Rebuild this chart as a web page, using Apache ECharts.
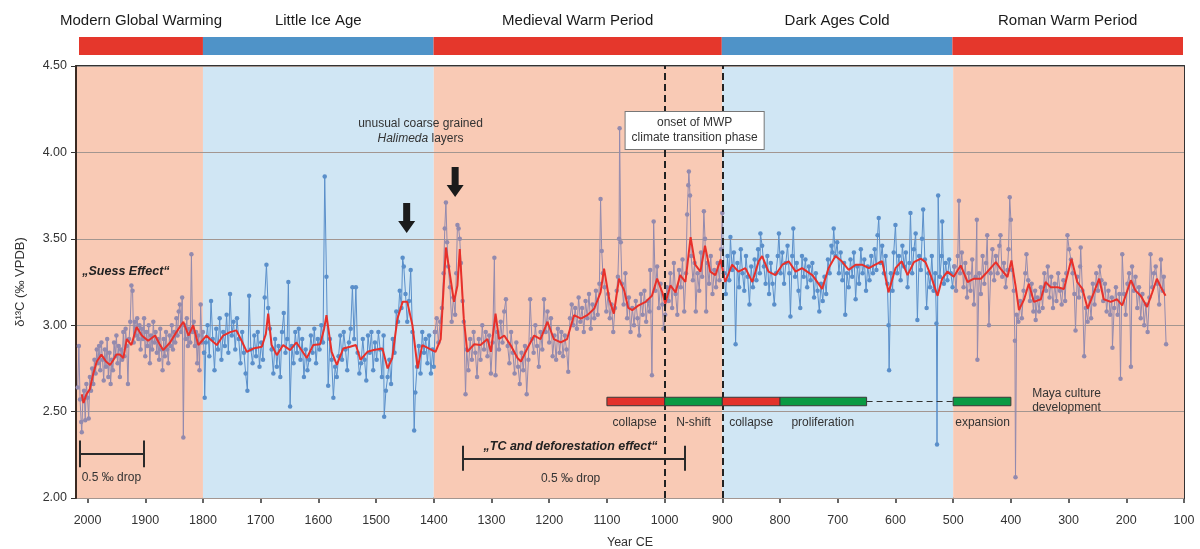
<!DOCTYPE html>
<html><head><meta charset="utf-8">
<script src="https://cdn.jsdelivr.net/npm/echarts@6/dist/echarts.min.js"></script>
<style>html,body{margin:0;padding:0;background:#fff}#c{width:1200px;height:549px}</style>
</head><body><div id="c"></div>
<script>
// ---------------- DATA ----------------
const periodNames = ['Modern Global Warming','Little Ice Age','Medieval Warm Period','Dark Ages Cold','Roman Warm Period'];
const periodStart = [2020,1800,1400,900,500];
const periodEnd   = [1800,1400,900,500,100];
const periodWarm  = [true,false,true,false,true];
const xTickYears = [2000,1900,1800,1700,1600,1500,1400,1300,1200,1100,1000,900,800,700,600,500,400,300,200,100];
const yTickValues = [2.0,2.5,3.0,3.5,4.0,4.5];

const rawModern = [[2017,2.64],[2015,2.88],[2013,2.57],[2011,2.44],[2010,2.38],[2008,2.58],[2006,2.62],[2004,2.45],[2002,2.66],[2000,2.58],[1998,2.46],[1996,2.70],[1994,2.62],[1992,2.75],[1990,2.66],[1988,2.80],[1986,2.72],[1984,2.86],[1982,2.78],[1980,2.88],[1978,2.74],[1976,2.90],[1974,2.80],[1972,2.68],[1970,2.86],[1968,2.76],[1966,2.92],[1964,2.70],[1962,2.84],[1960,2.66],[1958,2.80],[1956,2.74],[1954,2.90],[1952,2.82],[1950,2.94],[1948,2.78],[1946,2.88],[1944,2.70],[1942,2.86],[1940,2.80],[1938,2.96],[1936,2.82],[1934,2.98],[1932,2.88],[1930,2.66],[1928,2.92],[1926,3.02],[1924,3.23],[1922,3.20],[1920,2.90],[1918,3.02],[1916,2.94],[1914,3.04],[1912,2.92],[1910,3.00],[1908,2.86],[1906,2.98],[1904,2.92],[1902,3.04],[1900,2.82],[1898,2.96],[1896,2.88],[1894,3.00],[1892,2.78],[1890,2.94],[1888,2.86],[1886,3.02],[1884,2.90],[1882,2.96],[1880,2.84],[1878,2.92],[1876,2.80],[1874,2.98],[1872,2.86],[1870,2.74],[1868,2.92],[1866,2.82],[1864,2.96],[1862,2.86],[1860,2.78],[1858,2.94],[1856,2.88],[1854,3.00],[1852,2.86],[1850,2.96],[1848,2.90],[1846,3.04],[1844,2.94],[1842,3.08],[1840,3.12],[1838,2.96],[1836,3.16],[1834,2.35],[1832,3.00],[1830,2.92],[1828,3.04],[1826,2.88],[1824,2.98],[1822,2.90],[1820,3.41],[1818,2.96],[1816,3.02],[1814,2.88],[1812,2.96],[1810,2.78],[1808,2.94],[1806,2.74],[1804,3.12],[1802,2.90],[1800,2.96]];

const rawLIA = [[1798,2.84],[1797,2.58],[1795,2.90],[1792,3.00],[1789,2.82],[1786,3.14],[1783,2.92],[1780,2.74],[1777,2.98],[1774,2.86],[1771,3.04],[1768,2.80],[1765,2.96],[1762,2.88],[1759,3.06],[1756,2.84],[1753,3.18],[1750,2.94],[1747,3.02],[1744,2.86],[1741,3.04],[1738,2.92],[1735,2.78],[1732,2.96],[1729,2.84],[1726,2.72],[1723,2.62],[1720,3.17],[1717,2.86],[1714,2.78],[1711,2.94],[1708,2.82],[1705,2.96],[1702,2.76],[1699,2.90],[1696,2.80],[1693,3.16],[1690,3.35],[1687,3.10],[1684,2.98],[1681,2.86],[1678,2.72],[1675,2.92],[1672,2.76],[1669,2.88],[1666,2.70],[1663,2.96],[1660,3.07],[1657,2.84],[1654,2.92],[1652,3.25],[1649,2.53],[1646,2.88],[1643,2.78],[1640,2.96],[1637,2.84],[1634,2.98],[1631,2.80],[1628,2.92],[1625,2.70],[1622,2.86],[1619,2.74],[1616,2.80],[1613,2.94],[1610,2.84],[1607,2.98],[1604,2.78],[1601,2.92],[1598,2.86],[1595,3.00],[1592,2.90],[1589,3.86],[1586,3.28],[1583,2.65],[1580,2.92],[1577,2.80],[1574,2.58],[1571,2.76],[1568,2.70],[1565,2.82],[1562,2.94],[1559,2.80],[1556,2.96],[1553,2.86],[1550,2.74],[1547,2.90],[1544,2.98],[1541,3.22],[1538,2.92],[1535,3.22],[1532,2.84],[1529,2.72],[1526,2.78],[1523,2.92],[1520,2.80],[1517,2.68],[1514,2.94],[1511,2.84],[1508,2.96],[1505,2.74],[1502,2.90],[1499,2.80],[1496,2.96],[1493,2.86],[1490,2.70],[1487,2.94],[1486,2.47],[1483,2.62],[1480,2.70],[1477,2.80],[1474,2.66],[1471,2.92],[1468,2.84],[1465,3.08],[1462,3.02],[1459,3.20],[1456,3.10],[1454,3.39],[1452,3.34],[1449,3.18],[1446,3.02],[1443,3.14],[1440,3.32],[1437,2.96],[1434,2.39],[1432,2.61],[1429,2.76],[1426,2.88],[1423,2.72],[1420,2.96],[1417,2.84],[1414,2.92],[1411,2.78],[1408,2.94],[1405,2.72],[1402,2.86],[1400,2.76]];

const rawMWP = [[1398,2.96],[1395,3.04],[1392,2.90],[1389,3.02],[1386,3.10],[1383,3.30],[1381,3.56],[1379,3.71],[1377,3.48],[1375,3.34],[1372,3.22],[1369,3.02],[1366,3.16],[1363,3.06],[1361,3.30],[1359,3.58],[1357,3.56],[1355,3.50],[1353,3.36],[1350,3.14],[1348,3.02],[1345,2.60],[1343,2.86],[1340,2.74],[1337,2.92],[1334,2.80],[1331,2.96],[1328,2.84],[1325,2.70],[1322,2.92],[1319,2.80],[1316,3.00],[1313,2.86],[1310,2.96],[1307,2.82],[1304,2.94],[1301,2.72],[1298,2.90],[1295,3.39],[1293,2.71],[1290,2.96],[1287,2.86],[1284,3.02],[1281,2.90],[1278,3.08],[1275,3.15],[1272,2.88],[1269,2.78],[1266,2.96],[1263,2.84],[1260,2.72],[1257,2.90],[1254,2.76],[1251,2.66],[1248,2.84],[1245,2.74],[1242,2.88],[1239,2.60],[1236,2.80],[1233,3.15],[1230,2.92],[1227,2.84],[1224,3.00],[1221,2.88],[1218,2.76],[1215,2.96],[1212,2.86],[1209,3.15],[1206,2.96],[1203,3.08],[1200,2.90],[1197,3.04],[1194,2.82],[1191,2.94],[1188,2.80],[1185,2.98],[1182,2.84],[1179,2.96],[1176,2.82],[1173,2.94],[1170,2.86],[1167,2.73],[1164,3.04],[1161,3.12],[1158,3.00],[1155,3.10],[1152,2.98],[1149,3.16],[1146,3.02],[1143,3.10],[1140,2.96],[1137,3.14],[1134,3.04],[1131,3.18],[1128,2.98],[1125,3.12],[1122,3.04],[1119,3.20],[1116,3.06],[1113,3.24],[1111,3.73],[1109,3.43],[1107,3.30],[1104,3.22],[1101,3.08],[1098,3.18],[1095,3.04],[1092,3.12],[1089,2.96],[1086,3.10],[1083,3.20],[1081,3.28],[1079,3.50],[1078,4.14],[1076,3.48],[1074,3.24],[1071,3.12],[1068,3.30],[1065,3.04],[1062,3.16],[1059,2.96],[1056,3.10],[1053,3.00],[1050,3.14],[1047,3.04],[1044,2.94],[1041,3.18],[1038,3.06],[1035,3.20],[1032,3.02],[1029,3.14],[1026,3.08],[1025,3.32],[1022,2.71],[1019,3.60],[1016,3.20],[1013,3.34],[1010,3.10],[1007,3.24],[1004,3.12],[1002,2.98],[999,3.06],[996,3.22],[993,3.14],[990,3.30],[987,3.10],[984,3.36],[981,3.18],[978,3.06],[975,3.32],[972,3.22],[969,3.38],[966,3.08],[963,3.30],[961,3.64],[959,3.81],[958,3.89],[956,3.75],[954,3.40],[951,3.26],[948,3.36],[946,3.08],[943,3.30],[940,3.20],[937,3.42],[935,3.28],[932,3.66],[930,3.50],[928,3.08],[926,3.36],[923,3.24],[920,3.40],[917,3.18],[914,3.32],[911,3.22],[908,3.36],[905,3.26],[902,3.44],[900,3.65]];

const rawDAC = [[897,3.30],[894,3.18],[891,3.40],[888,3.26],[886,3.51],[883,3.32],[880,3.42],[877,2.89],[874,3.36],[871,3.22],[868,3.44],[865,3.30],[862,3.20],[859,3.40],[856,3.28],[853,3.12],[850,3.34],[847,3.22],[844,3.38],[841,3.26],[838,3.44],[835,3.30],[834,3.53],[831,3.46],[828,3.34],[825,3.24],[822,3.40],[819,3.18],[816,3.36],[813,3.24],[810,3.12],[807,3.30],[804,3.40],[802,3.53],[799,3.30],[796,3.42],[793,3.24],[790,3.36],[787,3.46],[784,3.30],[782,3.05],[779,3.40],[777,3.56],[774,3.28],[771,3.36],[768,3.20],[765,3.10],[762,3.40],[759,3.28],[756,3.38],[753,3.22],[750,3.34],[747,3.26],[744,3.36],[741,3.16],[738,3.30],[735,3.20],[732,3.08],[729,3.24],[726,3.14],[723,3.28],[720,3.18],[717,3.38],[714,3.30],[711,3.46],[709,3.42],[707,3.56],[704,3.40],[701,3.48],[698,3.30],[695,3.42],[692,3.26],[689,3.36],[687,3.06],[684,3.30],[681,3.22],[678,3.38],[675,3.28],[672,3.42],[669,3.15],[666,3.34],[663,3.24],[660,3.44],[657,3.30],[654,3.38],[651,3.20],[648,3.34],[645,3.26],[642,3.40],[639,3.30],[636,3.44],[633,3.32],[631,3.52],[629,3.62],[626,3.36],[623,3.46],[620,3.30],[617,3.40],[614,3.24],[612,3.00],[611,2.74],[608,3.30],[605,3.20],[603,3.42],[600,3.58],[597,3.30],[594,3.40],[591,3.26],[588,3.46],[585,3.34],[582,3.42],[579,3.22],[576,3.36],[574,3.65],[571,3.30],[568,3.44],[565,3.53],[562,3.03],[559,3.40],[556,3.32],[554,3.50],[552,3.67],[549,3.38],[546,3.10],[543,3.30],[540,3.22],[537,3.40],[534,3.20],[531,3.30],[529,3.01],[528,2.31],[526,3.75],[523,3.28],[520,3.40],[519,3.60],[516,3.24],[513,3.36],[510,3.26],[507,3.38],[504,3.30],[501,3.22]];

const rawRWP = [[498,3.34],[495,3.20],[492,3.40],[490,3.72],[488,3.30],[485,3.42],[482,3.22],[479,3.36],[476,3.16],[473,3.30],[470,3.20],[467,3.38],[464,3.12],[461,3.28],[459,3.61],[458,2.80],[455,3.30],[452,3.18],[449,3.40],[446,3.24],[443,3.36],[441,3.52],[438,3.00],[435,3.30],[432,3.44],[429,3.26],[426,3.40],[423,3.30],[420,3.46],[418,3.52],[415,3.28],[412,3.36],[409,3.22],[406,3.32],[404,3.44],[402,3.74],[400,3.61],[398,3.32],[395,3.20],[393,2.91],[392,2.12],[390,3.06],[387,3.02],[384,3.14],[381,3.04],[378,3.20],[375,3.30],[373,3.41],[370,3.26],[367,3.14],[364,3.24],[361,3.08],[358,3.20],[357,3.03],[354,3.16],[351,3.08],[348,3.22],[345,3.10],[342,3.30],[339,3.20],[336,3.34],[333,3.16],[330,3.28],[327,3.10],[324,3.24],[321,3.14],[318,3.30],[315,3.20],[312,3.12],[309,3.26],[306,3.14],[304,3.30],[302,3.52],[299,3.44],[296,3.38],[293,3.30],[290,3.18],[288,2.97],[285,3.28],[282,3.16],[280,3.34],[279,3.45],[276,3.20],[273,2.82],[270,3.10],[267,3.02],[264,3.16],[261,3.04],[258,3.24],[255,3.12],[252,3.30],[249,3.20],[246,3.34],[243,3.26],[240,3.14],[237,3.24],[234,3.08],[231,3.20],[228,3.06],[225,3.16],[224,2.87],[221,3.10],[218,3.22],[215,3.06],[212,3.18],[210,2.69],[207,3.41],[204,3.18],[201,3.06],[198,3.24],[195,3.30],[192,2.76],[190,3.34],[187,3.20],[184,3.28],[181,3.10],[178,3.22],[175,3.04],[172,3.18],[169,3.00],[166,3.12],[163,2.96],[160,3.16],[158,3.41],[155,3.22],[152,3.30],[149,3.34],[146,3.24],[143,3.12],[140,3.38],[137,3.20],[135,3.28],[131,2.89]];

const smoothLine = [[2010,2.60],[2007,2.55],[2002,2.60],[1996,2.63],[1990,2.72],[1984,2.79],[1976,2.83],[1968,2.79],[1961,2.77],[1955,2.80],[1950,2.83],[1944,2.83],[1938,2.81],[1932,2.92],[1924,2.885],[1915,2.99],[1906,2.94],[1895,2.91],[1883,2.94],[1875,2.89],[1869,2.856],[1857,2.90],[1846,2.96],[1834,3.02],[1825,2.94],[1817,3.00],[1808,2.885],[1799,2.92],[1794,2.94],
[1788,2.92],[1776,2.885],[1765,2.94],[1753,2.96],[1742,2.97],[1733,2.91],[1724,2.846],[1713,2.865],[1698,2.875],[1691,2.95],[1687,3.067],[1681,2.885],[1672,2.827],[1661,2.885],[1649,2.856],[1638,2.90],[1620,2.81],[1609,2.885],[1597,2.89],[1590,2.98],[1586,3.058],[1577,2.846],[1568,2.77],[1557,2.865],[1545,2.875],[1535,2.885],[1527,2.80],[1515,2.846],[1504,2.856],[1489,2.865],[1480,2.75],[1472,2.81],[1463,3.038],[1454,3.135],[1446,3.135],[1437,3.00],[1428,2.75],[1420,2.885],[1408,2.865],[1397,2.846],
[1388,2.92],[1379,3.45],[1371,3.27],[1365,3.135],[1359,3.23],[1355,3.44],[1348,3.038],[1342,2.846],[1330,2.89],[1319,2.885],[1307,2.92],[1301,2.846],[1293,3.067],[1287,2.92],[1278,2.94],[1267,2.885],[1255,2.81],[1249,2.79],[1238,2.865],[1226,2.94],[1215,2.92],[1203,3.02],[1192,2.92],[1180,2.90],[1169,2.92],[1157,3.058],[1145,3.038],[1134,3.058],[1122,3.096],[1111,3.19],[1105,3.327],[1096,3.15],[1088,3.067],[1079,3.269],[1070,3.20],[1063,3.10],[1056,3.087],[1045,3.115],[1033,3.135],[1022,3.17],[1013,3.27],[1004,3.19],[999,3.125],[990,3.23],[981,3.19],[973,3.29],[964,3.25],[955,3.51],[947,3.35],[938,3.31],[930,3.46],[921,3.31],[912,3.29],[903,3.38],
[895,3.25],[883,3.35],[872,3.31],[860,3.33],[848,3.25],[837,3.37],[831,3.40],[820,3.31],[808,3.29],[796,3.35],[785,3.37],[773,3.31],[762,3.33],[744,3.29],[727,3.21],[716,3.33],[704,3.40],[693,3.37],[681,3.32],[669,3.35],[658,3.35],[646,3.33],[635,3.35],[623,3.37],[612,3.19],[600,3.33],[589,3.37],[579,3.29],[568,3.365],[556,3.385],[548,3.365],[539,3.29],[527,3.17],[519,3.27],[510,3.31],[499,3.28],
[487,3.346],[475,3.25],[464,3.269],[452,3.269],[441,3.308],[426,3.365],[418,3.327],[406,3.279],[399,3.375],[392,3.23],[386,3.087],[377,3.15],[369,3.24],[360,3.135],[348,3.15],[340,3.25],[331,3.22],[319,3.22],[308,3.21],[295,3.385],[285,3.25],[276,3.21],[267,3.096],[256,3.19],[247,3.269],[239,3.15],[227,3.135],[216,3.15],[207,3.115],[192,3.26],[184,3.20],[175,3.17],[164,3.106],[155,3.19],[147,3.269],[140,3.22],[132,3.17]];

// Maya culture phases
const mayaStart = [1100,1000,900,800,500];
const mayaEnd   = [1000,900,800,650,400];
const mayaKind  = ['decline','growth','decline','growth','growth'];
const mayaNames = ['collapse','N-shift','collapse','proliferation','expansion'];
const mayaGap   = [650,500];
const transitionYears = [1000,900];
const dropSuess = [2013,1902];   // 0.5 per mil drop bar (years)
const dropTC = [1350,965];

// ---------------- CHART ----------------
const FONT = '"Liberation Sans", Arial, sans-serif';
const WARM_BG = '#f9cab5', COLD_BG = '#d0e6f4';
const WARM_BAR = '#e5372c', COLD_BAR = '#4f93c8';
const WARM_PT = '#938aae', COLD_PT = '#5a8fca';
const txt = (s) => Object.assign({fontFamily: FONT, color: '#333', fontSize: 12}, s || {});

const periodRaw = [rawModern, rawLIA, rawMWP, rawDAC, rawRWP];

const bands = periodNames.map((n,i)=>[{xAxis: periodStart[i], itemStyle:{color: periodWarm[i]?WARM_BG:COLD_BG}},{xAxis: periodEnd[i]}]);
const topBars = periodNames.map((n,i)=>[{name:n, xAxis: periodStart[i], itemStyle:{color: periodWarm[i]?WARM_BAR:COLD_BAR}},{xAxis: periodEnd[i]}]);

const rawSeries = periodRaw.map((arr,i)=>({
  type:'line', z:3, xAxisIndex:0, yAxisIndex:0,
  data: arr.concat(i<periodRaw.length-1 ? [periodRaw[i+1][0]] : []),
  symbol:'circle', symbolSize:4.5, showSymbol:true,
  lineStyle:{width:1, color: periodWarm[i]?WARM_PT:COLD_PT},
  itemStyle:{color: periodWarm[i]?WARM_PT:COLD_PT},
  silent:true
}));

const MAYA_Y = [2.534, 2.583];
const mayaAreas = mayaStart.map((s,i)=>[
  {xAxis:s, yAxis:MAYA_Y[0], itemStyle:{color: mayaKind[i]==='decline'?'#e3322b':'#0a9a43', borderColor:'#3a3a3a', borderWidth:1}},
  {xAxis:mayaEnd[i], yAxis:MAYA_Y[1]}]);
const mayaLabelYears = [1052,950,850,726,449];

const textPt = (x,y,label,pos) => ({coord:[x,y], symbol:'circle', symbolSize:1,
  itemStyle:{color:'rgba(0,0,0,0)'}, label:Object.assign({show:true, position:pos||'inside', distance:0}, txt(), label)});

const arrowPath = 'path://M5,0 L12,0 L12,18 L17,18 L8.5,30 L0,18 L5,18 Z';

const annoSeries = {
  type:'line', z:6, xAxisIndex:0, yAxisIndex:0, data:[], silent:true,
  markArea:{silent:true, z:6, label:{show:false}, data: mayaAreas},
  markLine:{silent:true, symbol:['none','none'], label:{show:false},
    data: [
      ...transitionYears.map(y=>({xAxis:y, lineStyle:{type:[7,4], width:2, color:'#222'}})),
      [{coord:[mayaGap[0],2.558], lineStyle:{type:[6,4], width:1, color:'#333'}},{coord:[mayaGap[1],2.558]}],
      [{coord:[dropSuess[0],2.255], lineStyle:{type:'solid', width:2, color:'#2a2a2a'}},{coord:[dropSuess[1],2.255]}],
      [{coord:[dropSuess[0],2.333], lineStyle:{type:'solid', width:2, color:'#2a2a2a'}},{coord:[dropSuess[0],2.178]}],
      [{coord:[dropSuess[1],2.333], lineStyle:{type:'solid', width:2, color:'#2a2a2a'}},{coord:[dropSuess[1],2.178]}],
      [{coord:[dropTC[0],2.226], lineStyle:{type:'solid', width:2, color:'#2a2a2a'}},{coord:[dropTC[1],2.226]}],
      [{coord:[dropTC[0],2.303], lineStyle:{type:'solid', width:2, color:'#2a2a2a'}},{coord:[dropTC[0],2.158]}],
      [{coord:[dropTC[1],2.303], lineStyle:{type:'solid', width:2, color:'#2a2a2a'}},{coord:[dropTC[1],2.158]}]
    ]},
  markPoint:{silent:true, data: [
    ...mayaNames.map((n,i)=>textPt(mayaLabelYears[i], 2.434, {formatter:n})),
    textPt(364, 2.565, {formatter:'Maya culture\ndevelopment', align:'left', lineHeight:14}, 'right'),
    textPt(2011, 2.118, {formatter:'0.5 ‰ drop'}, 'right'),
    textPt(1163, 2.114, {formatter:'0.5 ‰ drop'}),
    textPt(1163, 2.297, {formatter:'„TC and deforestation effect“', fontWeight:'bold', fontStyle:'italic', fontSize:12.5, color:'#222'}),
    textPt(2010, 3.313, {formatter:'„Suess Effect“', fontWeight:'bold', fontStyle:'italic', fontSize:12.5, color:'#222'}, 'right'),
    textPt(1423, 4.125, {formatter:'unusual coarse grained\n{i|Halimeda} layers', lineHeight:15, rich:{i:{fontStyle:'italic', fontFamily:FONT, fontSize:12, color:'#333'}}}),
    textPt(948, 4.127, {formatter:'onset of MWP\nclimate transition phase', lineHeight:15, backgroundColor:'#fff', borderColor:'#777', borderWidth:1, padding:[4,6,3,6]}),
    {coord:[1447,3.62], symbol:arrowPath, symbolSize:[17,30], itemStyle:{color:'#1b1b1b'}, label:{show:false}},
    {coord:[1363,3.829], symbol:arrowPath, symbolSize:[17,30], itemStyle:{color:'#1b1b1b'}, label:{show:false}}
  ]}
};

const option = {
  animation:false,
  backgroundColor:'#fff',
  grid:[
    {left:76, right:16, top:66, bottom:51, outerBoundsMode:'none', containLabel:false},
    {left:79, right:17, top:37, height:18, outerBoundsMode:'none', containLabel:false}
  ],
  xAxis:[
    {type:'value', gridIndex:0, inverse:true, min:100, max:2020, interval:100,
     name:'Year CE', nameLocation:'middle', nameGap:38, nameTextStyle:txt({fontSize:12.5}),
     axisLine:{lineStyle:{color:'#333', width:2}},
     axisTick:{show:true, length:5, customValues:xTickYears, lineStyle:{color:'#333', width:1.5}},
     axisLabel:Object.assign(txt({fontSize:12.5}), {margin:16, customValues:xTickYears, formatter:v=>String(v)}),
     splitLine:{show:false}},
    {type:'value', gridIndex:0, inverse:true, min:100, max:2020, position:'top',
     axisLine:{show:true, lineStyle:{color:'#333', width:2}}, axisTick:{show:false}, axisLabel:{show:false}, splitLine:{show:false}},
    {type:'value', gridIndex:1, inverse:true, min:100, max:2015, show:false}
  ],
  yAxis:[
    {type:'value', gridIndex:0, min:2, max:4.5, interval:0.5, z:2,
     name:'δ¹³C (‰ VPDB)', nameLocation:'middle', nameRotate:90, nameGap:49, nameTextStyle:txt({fontSize:13}),
     axisLine:{show:true, lineStyle:{color:'#3a2a22', width:2}},
     axisTick:{show:true, length:5, lineStyle:{color:'#333'}},
     axisLabel:Object.assign(txt({fontSize:12.5}), {margin:9, formatter:v=>v.toFixed(2)}),
     splitLine:{show:true, lineStyle:{color:'#a39690', width:1}}},
    {type:'value', gridIndex:0, min:2, max:4.5, position:'right',
     axisLine:{show:true, lineStyle:{color:'#333', width:2}}, axisTick:{show:false}, axisLabel:{show:false}, splitLine:{show:false}},
    {type:'value', gridIndex:1, min:0, max:1, show:false}
  ],
  series:[
    {type:'line', z:1, xAxisIndex:0, yAxisIndex:0, data:[], silent:true,
     markArea:{silent:true, z:1, label:{show:false}, data:bands}},
    {type:'line', z:1, xAxisIndex:2, yAxisIndex:2, data:[], silent:true,
     markArea:{silent:true, label:Object.assign(txt({fontSize:15, color:'#1a1a1a'}), {show:true, position:'top', distance:9}), data:topBars}},
    ...rawSeries,
    {type:'line', z:4, xAxisIndex:0, yAxisIndex:0, data:smoothLine, showSymbol:false, symbol:'none',
     lineStyle:{color:'#e8302a', width:2}, silent:true},
    annoSeries
  ]
};
echarts.init(document.getElementById('c')).setOption(option);
</script></body></html>
